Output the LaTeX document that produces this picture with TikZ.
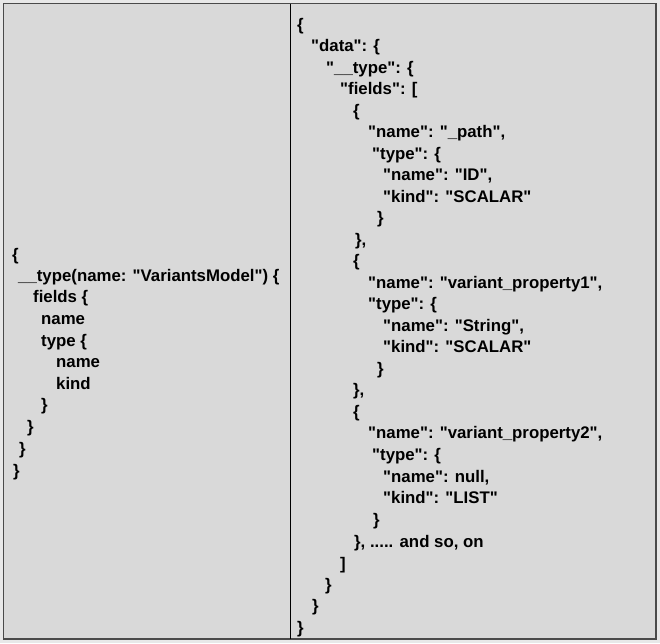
\documentclass[tikz,border=0pt]{standalone}
\usepackage{fontspec}
\newfontfamily\codefont{Liberation Sans}
\usetikzlibrary{positioning}
\definecolor{panel}{HTML}{D9D9D9}
\definecolor{outside}{HTML}{E8E8E8}
\definecolor{cadre}{HTML}{4A4A4A}
\tikzstyle{code} = [anchor=mid west,inner sep=0pt,yshift=-1.5pt,font=\codefont\bfseries\fontsize{16.8}{19}\selectfont]

\begin{document}
\begin{tikzpicture}[x=1pt,y=-1pt]

	\fill[outside] (0,0) rectangle (660,643);
	\useasboundingbox (0,0) rectangle (660,643);

	\draw[cadre,fill=panel,line width=1.5pt] (3.5,3.5) rectangle (656,639);
	\draw[line width=0.8pt] (290,3.5) -- (290,639);

	% requete
	\node[code] (q1) at (12,257) {\{};
	\node[code] (q2) at (18,278) {\_\_type(name: "VariantsModel") \{};
	\node[code] (q3) at (33,299) {fields \{};
	\node[code] (q4) at (41,321) {name};
	\node[code] (q5) at (41,343) {type \{};
	\node[code] (q6) at (56,364) {name};
	\node[code] (q7) at (56,386) {kind};
	\node[code] (q8) at (41,407) {\}};
	\node[code] (q9) at (27,429) {\}};
	\node[code] (q10) at (19,451) {\}};
	\node[code] (q11) at (13,473) {\}};

	% reponse
	\node[code] (r1) at (297,27) {\{};
	\node[code] (r2) at (311,48) {"data": \{};
	\node[code] (r3) at (326,70) {"\_\_type": \{};
	\node[code] (r4) at (340,91) {"fields": [};
	\node[code] (r5) at (353,113) {\{};
	\node[code] (r6) at (368,134) {"name": "\_path",};
	\node[code] (r7) at (372,156) {"type": \{};
	\node[code] (r8) at (383,177) {"name": "ID",};
	\node[code] (r9) at (383,199) {"kind": "SCALAR"};
	\node[code] (r10) at (377,220) {\}};
	\node[code] (r11) at (355,242) {\},};

	\node[code] (r12) at (353,263) {\{};
	\node[code] (r13) at (368,285) {"name": "variant\_property1",};
	\node[code] (r14) at (368,306) {"type": \{};
	\node[code] (r15) at (383,328) {"name": "String",};
	\node[code] (r16) at (383,349) {"kind": "SCALAR"};
	\node[code] (r17) at (377,371) {\}};
	\node[code] (r18) at (353,392) {\},};

	\node[code] (r19) at (353,414) {\{};
	\node[code] (r20) at (368,435) {"name": "variant\_property2",};
	\node[code] (r21) at (372,457) {"type": \{};
	\node[code] (r22) at (383,479) {"name": null,};
	\node[code] (r23) at (383,500) {"kind": "LIST"};
	\node[code] (r24) at (373,522) {\}};
	\node[code] (r25) at (354,544) {\}, ..... and so, on};
	\node[code] (r26) at (340,566) {]};
	\node[code] (r27) at (325,587) {\}};
	\node[code] (r28) at (312,608) {\}};
	\node[code] (r29) at (297,630) {\}};

\end{tikzpicture}
\end{document}
